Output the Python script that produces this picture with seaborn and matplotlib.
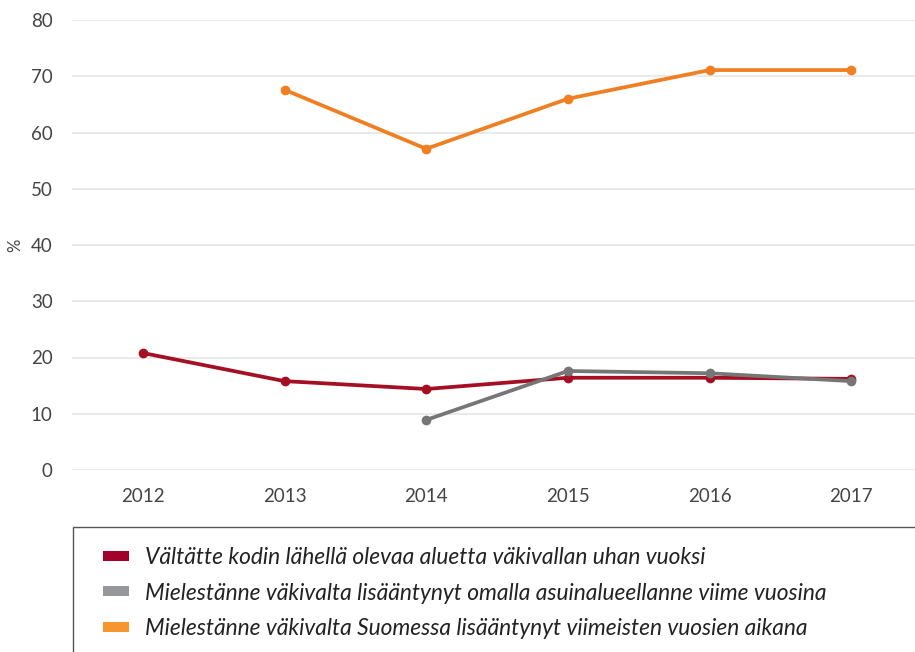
import numpy as np
import pandas as pd
import seaborn as sns
import matplotlib
matplotlib.use("Agg")
import matplotlib.pyplot as plt
from matplotlib.patches import Patch, Rectangle

years = [2012, 2013, 2014, 2015, 2016, 2017]
series_names = [
    "Vältätte kodin lähellä olevaa aluetta väkivallan uhan vuoksi",
    "Mielestänne väkivalta lisääntynyt omalla asuinalueellanne viime vuosina",
    "Mielestänne väkivalta Suomessa lisääntynyt viimeisten vuosien aikana",
]
red_vals = [20.8, 15.8, 14.4, 16.4, 16.4, 16.2]
gray_vals = [np.nan, np.nan, 8.9, 17.6, 17.2, 15.8]
orange_vals = [np.nan, 67.6, 57.1, 66.0, 71.1, 71.1]
y_ticks = [0, 10, 20, 30, 40, 50, 60, 70, 80]

line_colors = ["#a50f24", "#767676", "#f07f22"]
legend_colors = ["#a3002a", "#96979b", "#f7962e"]

rows = []
for name, vals in zip(series_names, [red_vals, gray_vals, orange_vals]):
    for yr, v in zip(years, vals):
        rows.append({"year": yr, "value": v, "series": name})
df = pd.DataFrame(rows).dropna()

sns.set_theme(style="white")
plt.rcParams["font.family"] = ["Lato", "DejaVu Sans"]

W, H = 915, 652
fig = plt.figure(figsize=(W / 100, H / 100), dpi=100)
ax = fig.add_axes([72 / W, (H - 470) / H, (W - 72) / W, 450 / H])

sns.lineplot(data=df, x="year", y="value", hue="series", hue_order=series_names,
             palette=line_colors, marker="o", markersize=7, markeredgewidth=0,
             linewidth=2.7, ax=ax, legend=False, clip_on=False, zorder=3)

ax.set_xlim(2011.5, 2017.45)
ax.set_ylim(0, 80)
ax.set_xticks(years)
ax.set_xticklabels([str(y) for y in years])
ax.set_yticks(y_ticks)
ax.set_yticklabels([str(t) for t in y_ticks])
ax.grid(axis="y", color="#e6e6e6", linewidth=1.2)
ax.grid(axis="x", visible=False)
for s in ax.spines.values():
    s.set_visible(False)
ax.tick_params(axis="both", length=0, labelsize=13.5, colors="#444444")
ax.tick_params(axis="x", pad=13)
ax.tick_params(axis="y", pad=14)
ax.set_xlabel("")
ax.set_ylabel("%", fontsize=12, color="#444444", labelpad=5)

# legend box
rect = Rectangle((73 / W, -0.05), 1.0, (H - 527) / H + 0.05, transform=fig.transFigure,
                 fill=False, edgecolor="#555555", linewidth=1.0, clip_on=False)
fig.patches.append(rect)

handles = [Patch(facecolor=c, edgecolor="none") for c in legend_colors]
leg = fig.legend(handles, series_names, loc="upper left",
                 bbox_to_anchor=(103 / W, (H - 547) / H), frameon=False,
                 prop={"family": ["Lato", "DejaVu Sans"], "style": "italic", "size": 16.4},
                 handlelength=1.14, handleheight=0.31, handletextpad=0.7,
                 labelspacing=0.64, borderpad=0, borderaxespad=0)
for t in leg.get_texts():
    t.set_color("#222222")

fig.savefig("out.png", dpi=100)
